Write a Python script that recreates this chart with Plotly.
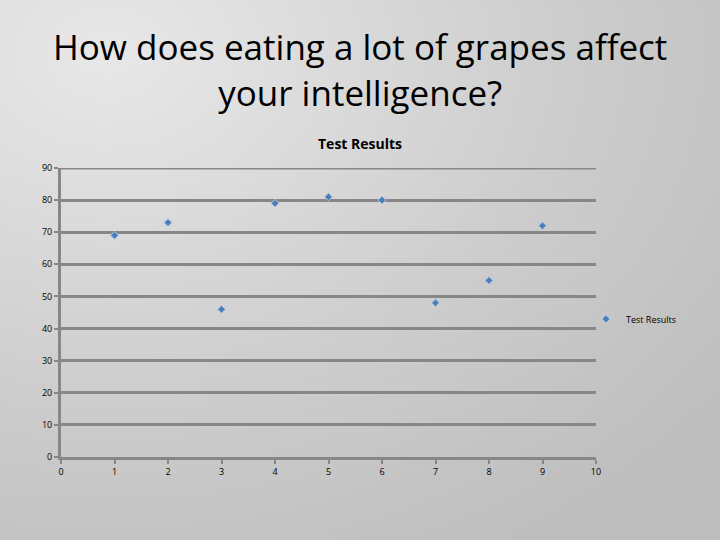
import plotly.graph_objects as go

# data
test_number = [1, 2, 3, 4, 5, 6, 7, 8, 9]
test_results = [69, 73, 46, 79, 81, 80, 48, 55, 72]
y_ticks = [0, 10, 20, 30, 40, 50, 60, 70, 80, 90]
x_ticks = [0, 1, 2, 3, 4, 5, 6, 7, 8, 9, 10]

# soft grey slide background (radial gradient)
bg_svg = (
    "data:image/svg+xml;utf8,"
    "<svg xmlns='http://www.w3.org/2000/svg' width='720' height='540'>"
    "<defs><radialGradient id='g' cx='0.15' cy='0.1' r='1.1'>"
    "<stop offset='0' stop-color='%23e8e8e8'/>"
    "<stop offset='0.6' stop-color='%23cccccc'/>"
    "<stop offset='1' stop-color='%23bdbdbd'/>"
    "</radialGradient></defs>"
    "<rect width='720' height='540' fill='url(%23g)'/></svg>"
)

# plot area in pixels: x 61..596, y 168..457
def px_x(p):
    return (p - 61) / 535

def px_y(p):
    return (457 - p) / 289

fig = go.Figure()
fig.add_trace(go.Scatter(
    x=test_number, y=test_results, mode="markers", name="Test Results",
    marker=dict(symbol="diamond", size=6, color="#4a7ebb",
                line=dict(color="#b4c8e4", width=1)),
))

fig.update_layout(
    width=720, height=540,
    margin=dict(l=61, r=124, t=168, b=83),
    paper_bgcolor="#d0d0d0",
    plot_bgcolor="rgba(0,0,0,0)",
    images=[dict(source=bg_svg, xref="paper", yref="paper",
                 x=px_x(0), y=px_y(0), sizex=720 / 535, sizey=540 / 289,
                 sizing="stretch", layer="below",
                 xanchor="left", yanchor="top")],
    font=dict(family="Open Sans, sans-serif", color="#000000"),
    showlegend=True,
    legend=dict(x=px_x(586), y=px_y(319), xanchor="left", yanchor="middle",
                bgcolor="rgba(0,0,0,0)", font=dict(size=9),
                itemwidth=30),
    xaxis=dict(range=[0, 10], tickvals=x_ticks, showgrid=False, zeroline=False,
               showline=True, linecolor="#878787", linewidth=3,
               ticks="outside", ticklen=4, tickcolor="#878787", tickwidth=2,
               tickfont=dict(size=9)),
    yaxis=dict(range=[0, 90], tickvals=y_ticks, showgrid=True,
               gridcolor="#878787", gridwidth=3, zeroline=False,
               showline=True, linecolor="#878787", linewidth=3,
               ticks="outside", ticklen=4, tickcolor="#878787", tickwidth=2,
               ticklabelstandoff=0, tickfont=dict(size=9)),
)

# top gridline (plotly skips the one on the plot edge)
fig.add_hline(y=y_ticks[-1], line=dict(color="#878787", width=3), layer="below")

fig.add_annotation(text="How does eating a lot of grapes affect<br>your intelligence?",
                   xref="paper", yref="paper", x=px_x(360), y=px_y(69),
                   showarrow=False, font=dict(size=35),
                   xanchor="center", yanchor="middle", align="center")
fig.add_annotation(text="<b>Test Results</b>", xref="paper", yref="paper",
                   x=px_x(360), y=px_y(143), showarrow=False,
                   font=dict(size=14), xanchor="center", yanchor="middle")

fig.write_html("out.html", config={"displayModeBar": False},
               post_script="document.body.style.margin='0';")
